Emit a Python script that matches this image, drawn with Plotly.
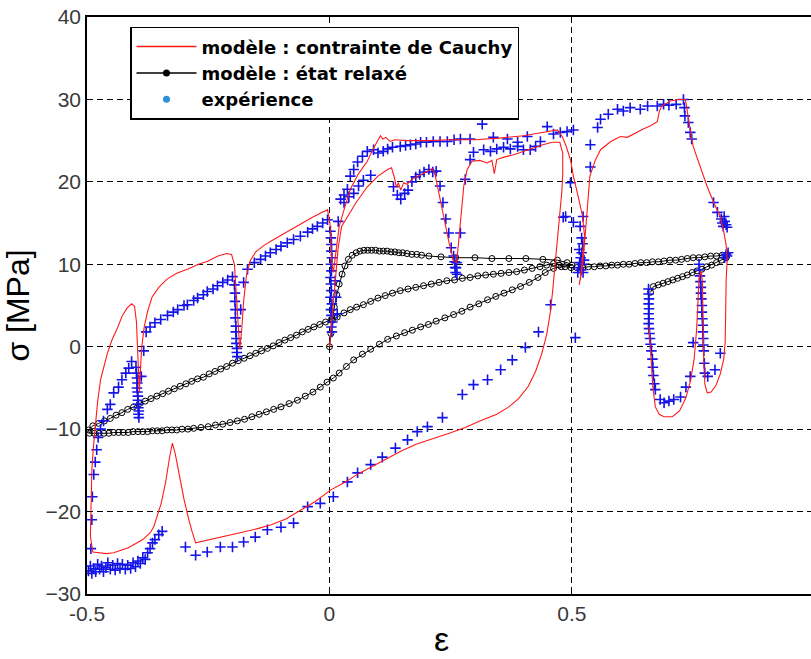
import plotly.graph_objects as go

# ---------------- model : contrainte de Cauchy (red) ----------------
cauchy_x = [0.000, 0.006, 0.012, 0.018, 0.025, 0.037, 0.055, 0.078, 0.100, 0.120, 0.128,
            0.134, 0.138, 0.142, 0.147, 0.153, 0.160, 0.170, 0.185, 0.200, 0.212, 0.218,
            0.226, 0.236, 0.247, 0.256, 0.262, 0.266, 0.271, 0.277, 0.284, 0.294, 0.310,
            0.325, 0.335, 0.340, 0.345, 0.360, 0.380, 0.400, 0.420, 0.440, 0.460, 0.475,
            0.481, 0.481, 0.479, 0.473, 0.466, 0.460, 0.455, 0.448, 0.438, 0.425, 0.410,
            0.390, 0.370, 0.345, 0.310, 0.280, 0.247, 0.210, 0.180, 0.150, 0.120, 0.090,
            0.060, 0.030, 0.002, -0.030, -0.060, -0.090, -0.120, -0.150, -0.180, -0.210,
            -0.245, -0.265, -0.276,
            -0.283, -0.290, -0.300, -0.310, -0.318, -0.324, -0.330, -0.338, -0.347, -0.355,
            -0.362, -0.370, -0.385, -0.400, -0.415, -0.430, -0.445, -0.460, -0.475, -0.488,
            -0.493, -0.492, -0.490, -0.487, -0.483, -0.478, -0.472, -0.465, -0.458, -0.448,
            -0.437, -0.427, -0.417, -0.408, -0.402, -0.398, -0.396, -0.394, -0.392, -0.390,
            -0.387, -0.382, -0.375, -0.366, -0.352, -0.335, -0.315, -0.293, -0.270, -0.250,
            -0.230, -0.212, -0.202, -0.196, -0.192, -0.188, -0.185, -0.181, -0.177, -0.171,
            -0.163, -0.152, -0.135, -0.115, -0.095, -0.075, -0.055, -0.035, -0.015, -0.004,
            0.001, 0.003, 0.005, 0.008, 0.013, 0.020, 0.030, 0.043, 0.060, 0.078, 0.090,
            0.100, 0.105, 0.110, 0.116, 0.125, 0.135, 0.160, 0.200, 0.250, 0.300, 0.350,
            0.400, 0.430, 0.455, 0.470,
            0.480, 0.487, 0.497, 0.503, 0.513, 0.522, 0.526, 0.522, 0.518, 0.515, 0.520,
            0.525, 0.531, 0.537, 0.548, 0.559, 0.580, 0.600, 0.614, 0.630, 0.647, 0.662,
            0.676, 0.680, 0.685, 0.703, 0.720, 0.734,
            0.738, 0.744, 0.750, 0.765, 0.779, 0.793, 0.806, 0.813, 0.818, 0.820, 0.818,
            0.817, 0.816, 0.813, 0.806, 0.797, 0.787, 0.779, 0.774, 0.772, 0.771, 0.770,
            0.769, 0.766, 0.762, 0.760, 0.757, 0.752, 0.745, 0.735, 0.722, 0.707, 0.690,
            0.680, 0.672, 0.667, 0.664, 0.661, 0.659]
cauchy_y = [0.0, 4.0, 8.5, 12.0, 14.6, 15.8, 17.5, 19.4, 20.7, 21.5, 21.7,
            20.5, 19.3, 19.9, 19.0, 19.9, 19.7, 20.3, 20.8, 21.3, 21.6, 20.8,
            18.5, 15.5, 12.5, 10.4, 10.2, 12.5, 16.0, 19.5, 21.5, 22.5, 22.6,
            22.3, 22.6, 21.0, 22.7, 23.0, 23.3, 23.7, 24.1, 24.5, 24.8, 24.8,
            23.5, 21.0, 18.7, 14.6, 10.6, 6.6, 4.0, 1.5, -0.8, -3.0, -4.8,
            -6.3, -7.3, -8.2, -9.0, -9.8, -10.5, -11.2, -11.8, -12.6, -13.5, -14.4,
            -15.4, -16.5, -17.4, -18.8, -19.9, -20.9, -21.6, -22.1, -22.5, -22.9,
            -23.3, -23.6, -23.8,
            -22.5, -21.0, -18.5, -15.5, -13.0, -11.7, -13.5, -16.5, -19.0, -20.5,
            -21.8, -22.6, -23.4, -23.9, -24.4, -24.7, -25.0, -25.1, -25.0, -24.9,
            -23.0, -19.0, -15.0, -12.3, -9.5, -6.6, -4.0, -2.2, -0.8, 0.9,
            2.3, 3.8, 4.7, 5.2, 4.9, 3.0, 0.0, -3.5, -5.5, -3.0,
            0.0, 2.4, 4.3, 6.0, 7.2, 8.2, 8.9, 9.4, 10.0, 10.4,
            11.0, 11.3, 11.2, 10.0, 6.5, 2.5, -0.3, 2.0, 5.5, 8.7,
            10.5, 11.5, 12.3, 13.0, 13.7, 14.3, 15.0, 15.7, 16.3, 16.6,
            15.0, 12.5, 10.2, 9.0, 11.5, 14.6, 16.6, 19.1, 21.0, 22.5, 24.0,
            25.0, 25.6, 25.2, 25.4, 24.9, 25.1, 25.0, 25.0, 25.1, 25.1, 25.3,
            25.6, 25.9, 26.2, 26.3,
            25.5, 24.5, 22.7, 20.7, 18.2, 15.8, 13.4, 10.6, 8.6, 7.5, 9.0,
            11.8, 16.6, 20.7, 22.6, 23.9, 24.9, 25.5, 25.4, 25.9, 26.4, 26.8,
            27.3, 28.5, 29.2, 29.8, 30.0, 30.0,
            28.4, 26.3, 24.3, 21.7, 19.4, 17.4, 15.8, 14.0, 12.3, 10.5, 8.0,
            4.0, 0.5, -1.5, -3.3, -4.7, -5.5, -5.6, -4.5, -2.0, 1.5, 5.0,
            8.0, 9.2, 8.3, 5.5, 2.0, -1.5, -4.0, -6.2, -7.8, -8.5, -8.5,
            -8.2, -7.3, -5.0, -2.0, 0.5, 2.5]

# ---------------- model : état relaxé (black) ----------------
relax_x = [0.000, 0.003, 0.006, 0.010, 0.015, 0.020, 0.026, 0.032, 0.039, 0.047, 0.055,
           0.063, 0.071, 0.079, 0.087, 0.095, 0.103, 0.111, 0.119, 0.127, 0.135, 0.143,
           0.151, 0.160, 0.170, 0.180, 0.190, 0.205, 0.230, 0.260, 0.300, 0.335, 0.370,
           0.405, 0.440, 0.470, 0.490,
           0.500, 0.478, 0.462, 0.445, 0.430, 0.412, 0.394, 0.377, 0.360, 0.343, 0.326,
           0.308, 0.290, 0.273, 0.256, 0.238, 0.220, 0.204, 0.188, 0.171, 0.155, 0.138,
           0.120, 0.103, 0.085, 0.068, 0.050, 0.035, 0.020, 0.008, -0.005, -0.019, -0.034,
           -0.050, -0.066, -0.083, -0.100, -0.115, -0.130, -0.145, -0.160, -0.175, -0.190,
           -0.205, -0.220, -0.235, -0.250, -0.265, -0.280, -0.292, -0.304, -0.315, -0.325,
           -0.335, -0.345, -0.355, -0.365, -0.375, -0.385, -0.395, -0.405, -0.415, -0.425,
           -0.435, -0.445, -0.455, -0.465, -0.475, -0.485, -0.495,
           -0.497, -0.488, -0.476, -0.464, -0.452, -0.440, -0.428, -0.416, -0.404, -0.392,
           -0.380, -0.368, -0.356, -0.344, -0.332, -0.320, -0.308, -0.296, -0.284, -0.272,
           -0.260, -0.248, -0.236, -0.224, -0.212, -0.200, -0.188, -0.176, -0.164, -0.152,
           -0.140, -0.128, -0.116, -0.104, -0.092, -0.080, -0.068, -0.056, -0.044, -0.032,
           -0.020, -0.008, 0.004, 0.016, 0.030, 0.043, 0.056, 0.070, 0.085, 0.100, 0.115,
           0.130, 0.146, 0.162, 0.178, 0.194, 0.210, 0.226, 0.242, 0.258, 0.274, 0.290,
           0.306, 0.322, 0.338, 0.354, 0.370, 0.386, 0.402, 0.418, 0.434, 0.448, 0.462,
           0.474, 0.486, 0.498, 0.510, 0.522, 0.534, 0.546, 0.558, 0.570, 0.582, 0.594,
           0.606, 0.618, 0.630, 0.642, 0.654, 0.666, 0.678, 0.690, 0.702, 0.714, 0.726,
           0.738, 0.750, 0.762, 0.774, 0.786, 0.798, 0.810, 0.820,
           0.818, 0.808, 0.798, 0.788, 0.778, 0.768, 0.758, 0.748, 0.738, 0.728, 0.718,
           0.708, 0.698, 0.688, 0.678, 0.668, 0.662]
relax_y = [0.0, 1.6, 3.2, 4.8, 6.3, 7.6, 8.8, 9.8, 10.6, 11.1, 11.4,
           11.6, 11.7, 11.7, 11.7, 11.7, 11.6, 11.6, 11.6, 11.5, 11.5, 11.4,
           11.4, 11.3, 11.2, 11.2, 11.1, 11.0, 10.9, 10.8, 10.8, 10.7, 10.7,
           10.7, 10.6, 10.5, 10.2,
           9.9, 9.7, 9.5, 9.0, 8.4, 7.8, 7.3, 6.9, 6.5, 6.1, 5.7,
           5.2, 4.8, 4.3, 3.9, 3.5, 3.1, 2.7, 2.4, 2.0, 1.7, 1.3,
           0.9, 0.3, -0.3, -0.9, -1.6, -2.4, -3.2, -3.8, -4.3, -4.9, -5.5,
           -6.0, -6.5, -6.9, -7.3, -7.6, -7.9, -8.2, -8.5, -8.8, -9.0,
           -9.2, -9.4, -9.5, -9.7, -9.8, -9.9, -10.0, -10.0, -10.1, -10.1,
           -10.1, -10.2, -10.2, -10.2, -10.3, -10.3, -10.3, -10.3, -10.4, -10.4,
           -10.4, -10.4, -10.5, -10.5, -10.5, -10.5, -10.5,
           -10.1, -9.6, -9.3, -9.0, -8.7, -8.3, -8.0, -7.6, -7.3, -6.9,
           -6.6, -6.3, -6.0, -5.7, -5.4, -5.1, -4.8, -4.5, -4.2, -3.9,
           -3.7, -3.3, -3.0, -2.7, -2.4, -2.0, -1.7, -1.4, -1.1, -0.8,
           -0.5, -0.2, 0.1, 0.5, 0.8, 1.1, 1.4, 1.8, 2.1, 2.4,
           2.7, 3.0, 3.3, 3.6, 4.1, 4.5, 4.8, 5.1, 5.5, 5.9, 6.2,
           6.5, 6.8, 7.0, 7.2, 7.4, 7.6, 7.8, 8.0, 8.1, 8.3, 8.4,
           8.6, 8.7, 8.8, 8.9, 9.0, 9.1, 9.3, 9.5, 9.7, 9.9, 10.1,
           9.9, 9.7, 9.6, 9.6, 9.6, 9.7, 9.7, 9.8, 9.8, 9.9, 9.9,
           10.0, 10.0, 10.1, 10.2, 10.2, 10.3, 10.3, 10.4, 10.5, 10.5, 10.6,
           10.7, 10.8, 10.8, 10.9, 11.0, 11.0, 11.1, 11.2,
           10.8, 10.5, 10.2, 9.9, 9.7, 9.4, 9.2, 9.0, 8.7, 8.5, 8.3,
           8.1, 7.9, 7.7, 7.5, 7.3, 6.6]

# ---------------- expérience (blue crosses) ----------------
exp_x = [
    # compression plateau near -0.5
    -0.497, -0.493, -0.490, -0.486, -0.482, -0.478, -0.474, -0.470, -0.466, -0.461,
    -0.457, -0.452, -0.447, -0.442, -0.437, -0.432, -0.427, -0.421, -0.416, -0.410,
    -0.405, -0.400, -0.395, -0.390, -0.385, -0.380, -0.375, -0.370, -0.365, -0.360,
    -0.352, -0.345,
    # unloading branch
    -0.297, -0.276, -0.252, -0.225, -0.200, -0.177, -0.153, -0.128, -0.100, -0.074,
    -0.045, -0.019, 0.008, 0.037, 0.058, 0.085, 0.109, 0.136, 0.161, 0.181,
    0.202, 0.233, 0.274, 0.297, 0.326, 0.353, 0.377, 0.404, 0.431, 0.456, 0.507,
    # reload from -0.5
    -0.492, -0.490, -0.489, -0.486, -0.483, -0.480, -0.477, -0.472, -0.466, -0.458,
    -0.452, -0.445, -0.435, -0.428, -0.420, -0.414, -0.408,
    # relaxation at -0.4
    -0.399, -0.398, -0.397, -0.396, -0.397, -0.396, -0.395, -0.395, -0.394, -0.394,
    -0.393, -0.394, -0.393,
    -0.388, -0.383, -0.378, -0.370, -0.360, -0.348, -0.334, -0.322, -0.313, -0.300,
    -0.293, -0.280, -0.272, -0.260, -0.252, -0.240, -0.231, -0.220, -0.210, -0.200,
    # relaxation at -0.19
    -0.196, -0.195, -0.195, -0.194, -0.194, -0.193, -0.193, -0.192, -0.192, -0.191,
    -0.191, -0.190,
    -0.183, -0.177, -0.169, -0.155, -0.142, -0.132, -0.122, -0.110, -0.100, -0.087,
    -0.074, -0.060, -0.045, -0.035, -0.025, -0.014, -0.004,
    # relaxation at 0
    0.002, 0.003, 0.004, 0.004, 0.005, 0.003, 0.004, 0.002, 0.003, 0.004,
    0.002, 0.005, 0.003, 0.004, 0.006, 0.004, 0.005, 0.012, 0.014, 0.016,
    # upper loading 0 -> 0.5
    0.018, 0.023, 0.030, 0.037, 0.043, 0.050, 0.058, 0.068, 0.078, 0.091,
    0.100, 0.111, 0.120, 0.130, 0.146, 0.157, 0.167, 0.178, 0.188, 0.200,
    0.214, 0.228, 0.243, 0.257, 0.270, 0.290, 0.315, 0.338, 0.367, 0.388,
    0.408, 0.435, 0.449, 0.462, 0.476, 0.490, 0.503,
    # first loading with relaxations
    0.030, 0.040, 0.050, 0.060, 0.070, 0.085, 0.132, 0.140, 0.147, 0.155,
    0.162, 0.170, 0.178, 0.186, 0.195, 0.205, 0.213, 0.220, 0.228, 0.234,
    0.240, 0.246, 0.251, 0.256, 0.258, 0.259, 0.260, 0.261, 0.262, 0.263,
    0.270, 0.280, 0.290, 0.297, 0.318, 0.332, 0.345, 0.359, 0.373, 0.388,
    0.400, 0.414, 0.425,
    # around 0.5
    0.482, 0.487, 0.497, 0.503, 0.517, 0.523, 0.512, 0.514, 0.516, 0.518,
    0.520, 0.515, 0.519, 0.521, 0.523, 0.525, 0.522, 0.520,
    # second loading to 0.73
    0.538, 0.538, 0.553, 0.559, 0.575, 0.594, 0.606, 0.620, 0.641, 0.656,
    0.676, 0.689, 0.700, 0.715, 0.730, 0.732, 0.733, 0.740, 0.744, 0.747,
    0.792, 0.800, 0.808, 0.810, 0.812, 0.815, 0.818, 0.820, 0.814,
    # relaxation at 0.66 and loop
    0.658, 0.658, 0.659, 0.658, 0.659, 0.658, 0.659, 0.658, 0.659, 0.660,
    0.661, 0.662, 0.664, 0.666, 0.667, 0.668, 0.670, 0.672, 0.682, 0.690,
    0.700, 0.710, 0.724, 0.735, 0.744, 0.750,
    # relaxation at 0.765 and loop
    0.762, 0.763, 0.764, 0.765, 0.766, 0.766, 0.767, 0.768, 0.768, 0.769,
    0.770, 0.770, 0.771, 0.771, 0.772, 0.773, 0.774, 0.780, 0.795, 0.806,
    0.815, 0.818, 0.820, 0.822,
]
exp_y = [
    -27.2, -26.6, -27.5, -26.9, -27.3, -26.4, -27.0, -26.6, -27.3, -26.8,
    -26.2, -27.0, -26.5, -27.1, -26.3, -26.9, -26.4, -27.0, -26.5, -26.9,
    -26.2, -26.7, -26.0, -26.3, -25.6, -25.8, -25.0, -24.5, -23.8, -23.4,
    -22.8, -22.4,
    -24.3, -25.3, -24.9, -24.3, -24.3, -23.7, -23.1, -22.2, -21.9, -21.4,
    -19.4, -19.0, -18.2, -16.4, -15.3, -14.3, -13.4, -12.3, -11.3, -10.3,
    -9.7, -8.6, -5.8, -4.6, -4.0, -2.8, -1.6, -0.1, 1.8, 5.1, 1.1,
    -24.5, -21.0, -18.2, -15.5, -14.0, -12.5, -11.0, -10.0, -9.0, -7.6,
    -7.0, -5.6, -4.9, -4.0, -3.2, -2.6, -1.8,
    -2.5, -3.2, -3.8, -4.4, -5.0, -5.5, -6.0, -6.5, -7.0, -7.4,
    -7.8, -8.2, -8.6,
    -3.6, -0.5, 1.8, 2.4, 2.9, 3.3, 3.8, 4.2, 4.5, 5.0,
    5.1, 5.6, 5.9, 6.3, 6.7, 7.0, 7.4, 7.8, 8.1, 8.5,
    7.5, 6.5, 5.5, 4.5, 3.5, 2.5, 1.8, 1.0, 0.4, -0.2,
    -0.7, -1.2,
    4.5, 7.8, 9.4, 10.2, 10.6, 11.0, 11.4, 11.8, 12.2, 12.6,
    13.0, 13.4, 13.9, 14.3, 14.6, 15.0, 15.4,
    14.0, 13.2, 12.4, 11.6, 10.8, 10.0, 9.2, 8.4, 7.6, 6.8,
    6.0, 5.2, 4.5, 3.8, 3.0, 2.4, 1.8, 8.0, 6.0, 4.0,
    15.2, 17.9, 18.4, 19.1, 20.7, 21.5, 22.4, 23.1, 23.7, 23.9,
    23.5, 23.7, 24.0, 24.2, 24.3, 24.4, 24.5, 24.6, 24.8, 24.8,
    24.9, 24.9, 24.9, 25.1, 25.2, 25.2, 27.0, 25.4, 25.2, 24.8,
    25.5, 24.9, 26.7, 25.8, 26.0, 26.1, 26.3,
    17.5, 18.2, 18.6, 19.5, 20.2, 20.8, 19.4, 18.4, 17.9, 18.6,
    19.0, 20.0, 20.6, 20.9, 21.2, 21.5, 21.2, 21.3, 19.5, 17.5,
    15.5, 13.8, 12.0, 11.0, 10.3, 9.6, 9.0, 9.6, 10.2, 8.8,
    13.8, 20.3, 22.7, 23.6, 23.9, 23.7, 24.0, 24.2, 24.0, 24.3,
    23.9, 23.9, 24.3,
    15.7, 15.8, 19.9, 15.1, 14.6, 15.8, 9.0, 9.6, 10.2, 10.8,
    11.4, 11.8, 9.3, 10.0, 9.0, 10.5, 12.5, 13.2,
    24.5, 21.8, 26.6, 27.6, 28.2, 28.8, 28.6, 29.0, 28.8, 29.2,
    29.2, 29.4, 29.3, 29.4, 30.0, 29.0, 28.0, 27.2, 26.0, 25.2,
    17.5, 16.3, 15.5, 15.0, 14.6, 15.2, 14.8, 14.5, 15.8,
    7.0, 6.4, 5.8, 5.2, 4.6, 4.0, 3.4, 2.8, 2.2, 1.6,
    1.0, 0.3, -0.5, -1.5, -2.5, -3.5, -4.5, -5.2, -6.4, -6.8,
    -6.6, -6.4, -6.1, -4.9, -3.6, 0.5,
    10.0, 9.3, 8.6, 7.9, 7.2, 6.5, 5.8, 5.0, 4.2, 3.4,
    2.6, 1.8, 1.0, 0.2, -0.5, -2.0, -3.2, -3.6, -2.8, -0.8,
    10.8, 11.2, 11.0, 11.4,
]

legend_names = ["modèle : contrainte de Cauchy", "modèle : état relaxé", "expérience"]
x_ticks = [-0.5, 0, 0.5, 1]
x_tick_text = ["-0.5", "0", "0.5", "1"]
y_ticks = [-30, -20, -10, 0, 10, 20, 30, 40]
x_label = "ε"
y_label = "σ [MPa]"

RED = "#ff1a1a"
BLUE = "#1414e6"
SANS = "Liberation Sans, Arial, sans-serif"

fig = go.Figure()

# data traces (legend handled by the entries below)
fig.add_trace(go.Scatter(
    x=relax_x, y=relax_y, mode="lines+markers", showlegend=False,
    line=dict(color="black", width=1),
    marker=dict(symbol="circle-open", size=6, color="black", line=dict(width=1, color="black")),
    hoverinfo="skip"))
fig.add_trace(go.Scatter(
    x=exp_x, y=exp_y, mode="markers", showlegend=False,
    marker=dict(symbol="cross-thin", size=7.5, line=dict(width=1.6, color=BLUE)),
    hoverinfo="skip"))
fig.add_trace(go.Scatter(
    x=cauchy_x, y=cauchy_y, mode="lines", showlegend=False,
    line=dict(color=RED, width=1.1), hoverinfo="skip"))

# legend entries
fig.add_trace(go.Scatter(x=[None], y=[None], mode="lines", name="<b>%s</b>" % legend_names[0],
                         line=dict(color=RED, width=1.5)))
fig.add_trace(go.Scatter(x=[None], y=[None], mode="lines+markers", name="<b>%s</b>" % legend_names[1],
                         line=dict(color="black", width=1.5),
                         marker=dict(symbol="circle", size=7, color="black")))
fig.add_trace(go.Scatter(x=[None], y=[None], mode="markers", name="<b>%s</b>" % legend_names[2],
                         marker=dict(symbol="circle", size=7, color="#2f8fd8")))

axis_common = dict(
    showgrid=True, gridcolor="black", gridwidth=1, griddash="6px,4px",
    zeroline=False, showline=True, linecolor="black", linewidth=1.5,
    ticks="inside", ticklen=5, tickcolor="black", automargin=False,
    tickfont=dict(family=SANS, size=21, color="#3a3a3a"),
)

fig.update_layout(
    width=811, height=659,
    margin=dict(l=87, r=0, t=17, b=65),
    paper_bgcolor="white", plot_bgcolor="white",
    xaxis=dict(range=[-0.5, 0.993], tickvals=x_ticks, ticktext=x_tick_text, mirror="ticks",
               **axis_common),
    yaxis=dict(range=[-30, 40], tickvals=y_ticks, mirror=False,
               title=dict(text=y_label, font=dict(family=SANS, size=32, color="black"),
                          standoff=8),
               **axis_common),
    legend=dict(x=0.0594, y=0.983, xanchor="left", yanchor="top",
                bgcolor="white", bordercolor="black", borderwidth=1.5,
                font=dict(family="DejaVu Sans, sans-serif", size=18, color="black"),
                itemwidth=60, tracegroupgap=0),
    annotations=[dict(text=x_label, xref="paper", yref="paper", x=0.489, y=-0.078,
                      xanchor="center", yanchor="middle", showarrow=False,
                      font=dict(family=SANS, size=34, color="black"))],
)

# remove the browser's default 8px body margin so the figure sits at the page origin
fig.write_html("out.html", config={"displayModeBar": False},
               post_script="document.body.style.margin='0px';")
